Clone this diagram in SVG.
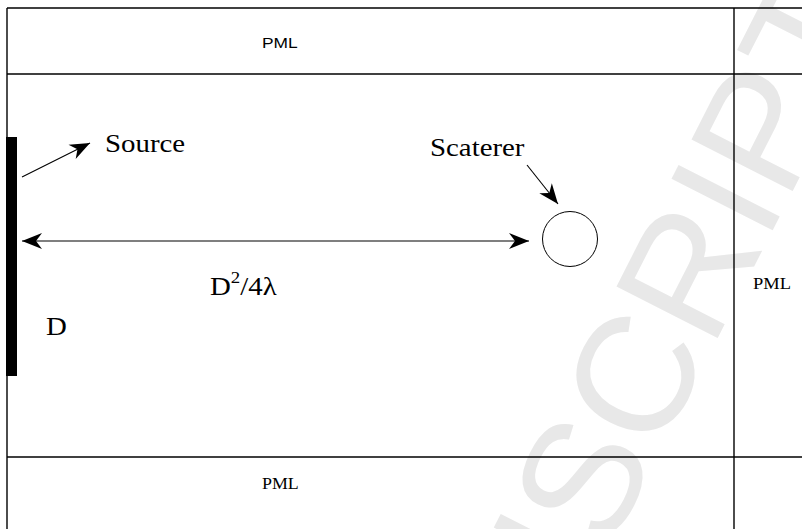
<svg xmlns="http://www.w3.org/2000/svg" width="802" height="529" viewBox="0 0 802 529">
<style>
.ln{stroke:#000;stroke-width:1.4;fill:none}
.serif{font-family:"Liberation Serif","Times New Roman",serif;fill:#000}
.sans{font-family:"Liberation Sans",Arial,sans-serif;fill:#000}
.wm{font-family:"Liberation Sans",Arial,sans-serif;font-size:165px;fill:#e8e8e8}
.arr{stroke:#000;stroke-width:1.1;fill:none}
</style>
<defs>
<marker id="ah" viewBox="-21 -9 23 18" refX="0" refY="0" markerWidth="23" markerHeight="18" markerUnits="userSpaceOnUse" orient="auto-start-reverse">
<path d="M0,0 L-20,-8 L-14,0 L-20,8 Z" fill="#000"/>
</marker>
</defs>
<rect width="802" height="529" fill="#fff"/>
<g id="watermark" transform="translate(387,987) rotate(-63)">
<text class="wm" x="0" y="0">MANUSCRIPT</text>
</g>
<g id="frame">
<line class="ln" x1="7" y1="8" x2="802" y2="8"/>
<line class="ln" x1="7" y1="74" x2="802" y2="74"/>
<line class="ln" x1="7" y1="457" x2="802" y2="457"/>
<line class="ln" x1="7" y1="8" x2="7" y2="529"/>
<line class="ln" x1="734" y1="8" x2="734" y2="529"/>
</g>
<g id="pml-top"><text class="sans" transform="translate(262,48) scale(1.12,1)" font-size="15.5">PML</text></g>
<g id="pml-right"><text class="serif" transform="translate(753,289) scale(1.12,1)" font-size="16.5">PML</text></g>
<g id="pml-bottom"><text class="serif" transform="translate(262,489) scale(1.12,1)" font-size="16">PML</text></g>
<g id="source">
<rect x="6" y="137" width="11" height="239" fill="#000"/>
<text class="serif" transform="translate(105,152) scale(1.11,1)" font-size="26">Source</text>
</g>
<g id="d-label"><text class="serif" transform="translate(46,335) scale(1.11,1)" font-size="26">D</text></g>
<g id="distance-label"><text class="serif" transform="translate(210,295) scale(1.11,1)" font-size="26">D<tspan font-size="17" dy="-12">2</tspan><tspan dy="12">/4λ</tspan></text></g>
<g id="scatterer">
<circle cx="570" cy="239" r="27.5" fill="none" stroke="#000" stroke-width="1"/>
<text class="serif" transform="translate(430,156) scale(1.11,1)" font-size="26">Scaterer</text>
</g>
<g id="connectors">
<line class="arr" x1="22" y1="177" x2="90" y2="143" marker-end="url(#ah)"/>
<line class="arr" x1="22" y1="241" x2="529" y2="241" marker-start="url(#ah)" marker-end="url(#ah)"/>
<line class="arr" x1="527" y1="165" x2="558" y2="204" marker-end="url(#ah)"/>
</g>
</svg>
